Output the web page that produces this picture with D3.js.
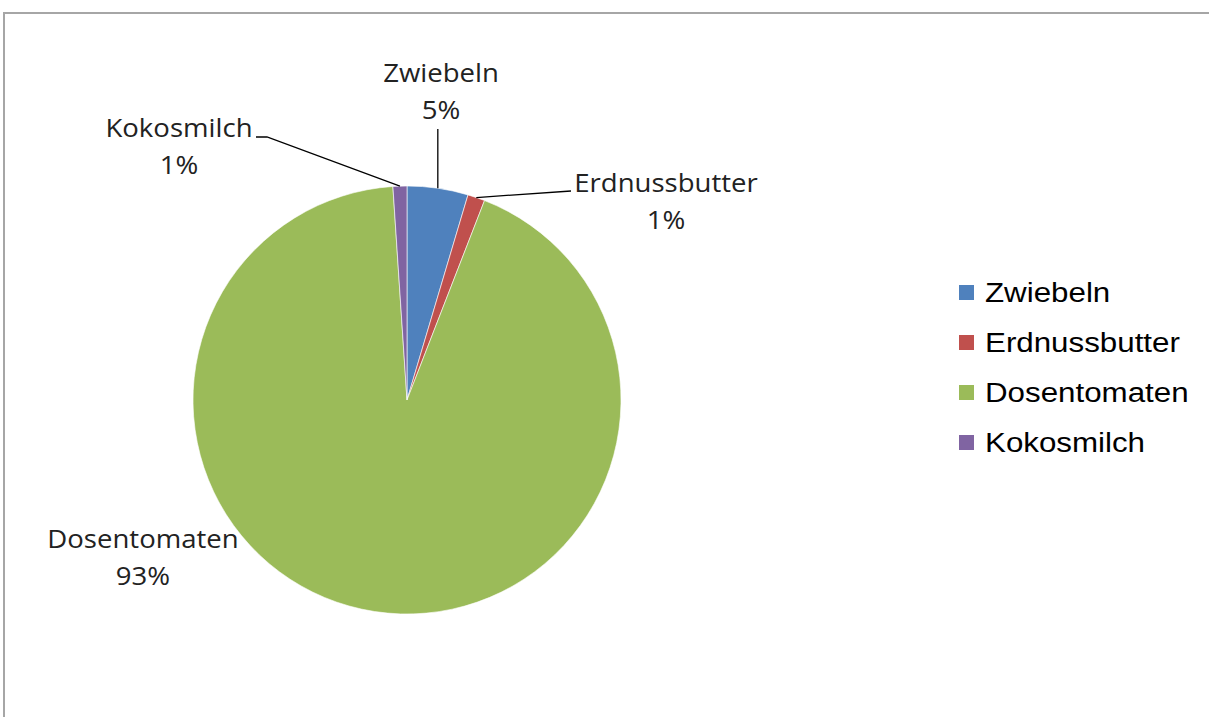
<!DOCTYPE html>
<html>
<head>
<meta charset="utf-8">
<script src="https://cdn.jsdelivr.net/npm/d3@7"></script>
<style>
  body { margin: 0; background: #fff; overflow: hidden; }
  svg { display: block; }
</style>
</head>
<body>
<svg id="chart" width="1209" height="717"></svg>
<script>
// slice values (percent of total)
var categories = ['Zwiebeln', 'Erdnussbutter', 'Dosentomaten', 'Kokosmilch']
var values = [4.6, 1.3, 93.05, 1.05]
var colors = ['#4F81BD', '#C0504D', '#9BBB59', '#8064A2']

var width = 1209, height = 717
var cx = 407, cy = 400, radius = 214

// where each data label sits and where its leader line bends
var labelPos = [
  {x: 441, y: 82, bend: null},
  {x: 666, y: 192, bend: [571, 191], end: [571, 191]},
  {x: 143, y: 548, bend: null, noLine: true},
  {x: 179, y: 137, bend: [267, 137], end: [256, 137]}
]

var svg = d3.select('svg#chart')

// chart area border (only top and left edge are in the picture)
svg.append('path')
    .attr('d', 'M4,717 V13 H1209')
    .attr('fill', 'none')
    .attr('stroke', '#a6a6a6')
    .attr('stroke-width', 2)

var data = categories.map((c, i) => ({name: c, value: values[i], color: colors[i]}))
var total = d3.sum(values)

var pie = d3.pie().sort(null).value(d => d.value)
var arcs = pie(data)

var arc = d3.arc().innerRadius(0).outerRadius(radius)

var g = svg.append('g').attr('transform', `translate(${cx},${cy})`)

g.selectAll('path')
  .data(arcs)
  .join('path')
    .attr('d', arc)
    .attr('fill', d => d.data.color)
    .attr('stroke', '#fff')
    .attr('stroke-width', 0.6)

// leader lines
arcs.forEach((d, i) => {
  var lp = labelPos[i]
  if (lp.noLine) return
  var mid = (d.startAngle + d.endAngle) / 2
  var px = cx + radius * Math.sin(mid)
  var py = cy - radius * Math.cos(mid)
  var pts
  if (lp.bend) {
    pts = [[px, py], lp.bend, lp.end]
  } else {
    pts = [[px, py], [px, lp.y + 47]]
  }
  svg.append('path')
      .attr('d', d3.line()(pts))
      .attr('fill', 'none')
      .attr('stroke', '#000')
      .attr('stroke-width', 1.3)
})

// data labels
var labels = svg.append('g')
    .attr('font-family', 'Open Sans, sans-serif')
    .attr('font-size', 26)
    .attr('fill', '#222')

arcs.forEach((d, i) => {
  var lp = labelPos[i]
  var t = labels.append('text')
      .attr('text-anchor', 'middle')
      .attr('transform', `translate(${lp.x},${lp.y}) scale(1.06,1)`)
  t.append('tspan').attr('x', 0).attr('y', 0).text(d.data.name)
  t.append('tspan').attr('x', 0).attr('y', 37)
      .text(Math.round(d.data.value / total * 100) + '%')
})

// legend
var legend = svg.append('g')
    .attr('transform', 'translate(959,293)')

var rowH = 50
var rows = legend.selectAll('g')
  .data(data)
  .join('g')
    .attr('transform', (d, i) => `translate(0,${i * rowH})`)

rows.append('rect')
    .attr('x', 0).attr('y', -8)
    .attr('width', 15).attr('height', 15)
    .attr('fill', d => d.color)

rows.append('text')
    .attr('transform', 'translate(26,0) scale(1.16,1)')
    .attr('dominant-baseline', 'central')
    .attr('font-family', 'Liberation Sans, Arial, sans-serif')
    .attr('font-size', 27)
    .attr('fill', '#000')
    .text(d => d.name)
</script>
</body>
</html>
